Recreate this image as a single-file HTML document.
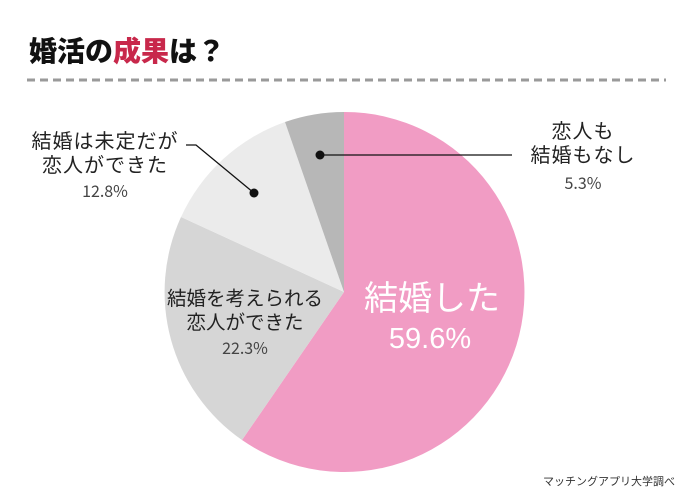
<!DOCTYPE html>
<html><head><meta charset="utf-8"><style>
html,body{margin:0;padding:0;background:#fff;}
body{width:690px;height:502px;overflow:hidden;position:relative;font-family:"Liberation Sans","Noto Sans CJK JP",sans-serif;}
</style></head><body>
<svg width="690" height="502" viewBox="0 0 690 502" xmlns="http://www.w3.org/2000/svg" style="position:absolute;left:0;top:0">
<text x="29" y="61" font-size="28" font-weight="900" fill="#111" font-family="Noto Sans CJK JP, sans-serif">婚活の<tspan fill="#c8284b">成果</tspan>は？</text>
<line x1="27" y1="80" x2="666" y2="80" stroke="#9a9a9a" stroke-width="3" stroke-dasharray="8,5"/>
<path d="M344,292 L344,112 A180,180 0 1,1 242,440 Z" fill="#f19cc4"/>
<path d="M344,292 L242,440 A180,180 0 0,1 181,217 Z" fill="#d6d6d6"/>
<path d="M344,292 L181,217 A180,180 0 0,1 285,122 Z" fill="#ebebeb"/>
<path d="M344,292 L285,122 A180,180 0 0,1 344,112 Z" fill="#b7b7b7"/>
<circle cx="320" cy="155" r="4.5" fill="#111"/>
<line x1="320" y1="155" x2="512" y2="155" stroke="#111" stroke-width="1.3"/>
<circle cx="254" cy="193" r="4.5" fill="#111"/>
<polyline points="186,145 196,145 254,193" fill="none" stroke="#111" stroke-width="1.3"/>
<g font-family="Noto Sans CJK JP, sans-serif" fill="#222" text-anchor="middle">
<text x="105" y="148" font-size="20" letter-spacing="1">結婚は未定だが</text>
<text x="105" y="172" font-size="20" letter-spacing="1">恋人ができた</text>
<text x="105" y="197" font-size="16" fill="#444">12.8%</text>
<text x="583" y="138" font-size="20" letter-spacing="1">恋人も</text>
<text x="583" y="162" font-size="20" letter-spacing="1">結婚もなし</text>
<text x="583" y="189" font-size="16" fill="#444">5.3%</text>
<text x="245" y="305" font-size="19.5">結婚を考えられる</text>
<text x="245" y="329" font-size="19.5">恋人ができた</text>
<text x="245" y="354" font-size="16" fill="#444">22.3%</text>
<text x="432" y="310" font-size="34" fill="#fff">結婚した</text>
<text x="430" y="348" font-size="29" fill="#fff" font-family="Liberation Sans, sans-serif">59.6%</text>
<text x="675" y="485" font-size="11" text-anchor="end" fill="#333">マッチングアプリ大学調べ</text>
</g>
</svg>
</body></html>
